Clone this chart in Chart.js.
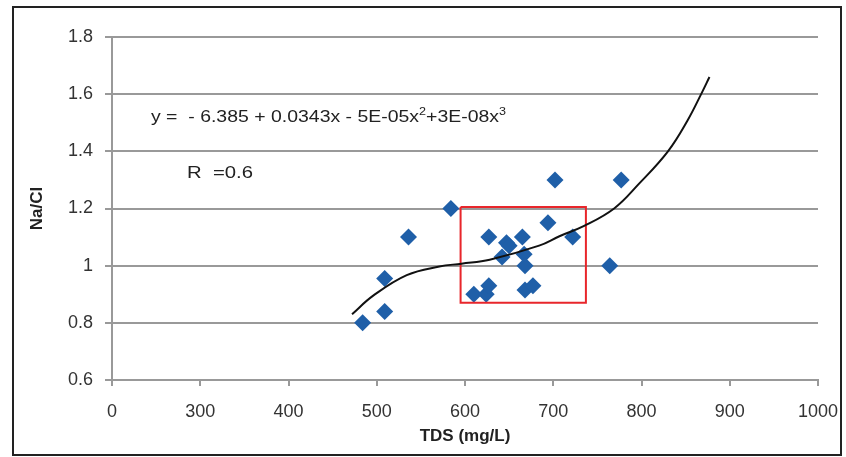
<!DOCTYPE html>
<html>
<head>
<meta charset="utf-8">
<script src="https://cdn.jsdelivr.net/npm/chart.js@4.4.0/dist/chart.umd.min.js"></script>
<style>
  html, body { margin: 0; padding: 0; background: #fff; }
  #wrap { width: 846px; height: 457px; position: relative; }
</style>
</head>
<body>
<div id="wrap"><canvas id="chart" width="846" height="457"></canvas></div>
<script>
// samples
const tds  = [484, 509, 509, 536, 584, 610, 624, 627, 627, 642, 647, 650, 665, 667, 668, 668, 677, 694, 702, 722, 764, 777];
const naCl = [0.80, 0.84, 0.955, 1.10, 1.20, 0.90, 0.90, 0.93, 1.10, 1.03, 1.08, 1.07, 1.10, 1.04, 1.00, 0.915, 0.93, 1.15, 1.30, 1.10, 1.00, 1.30];

// trend curve
const fitTds  = [472, 496, 534, 571, 596, 628, 684, 707, 735, 769, 797, 830, 852, 869, 877];
const fitNaCl = [0.830, 0.895, 0.967, 0.997, 1.007, 1.021, 1.070, 1.103, 1.139, 1.200, 1.286, 1.400, 1.507, 1.609, 1.660];

// red box
const boxTds  = [595, 737, 737, 595, 595];
const boxNaCl = [1.205, 1.205, 0.870, 0.870, 1.205];

const xTicks = [200, 300, 400, 500, 600, 700, 800, 900, 1000];
const xTickLabels = ['0', '300', '400', '500', '600', '700', '800', '900', '1000'];
const yTicks = [0.6, 0.8, 1.0, 1.2, 1.4, 1.6, 1.8];
const yTickLabels = ['0.6', '0.8', '1', '1.2', '1.4', '1.6', '1.8'];

const eqParts = [
  { t: 'y =  - 6.385 + 0.0343x - 5E-05x', sup: false },
  { t: '2', sup: true },
  { t: '+3E-08x', sup: false },
  { t: '3', sup: true }
];
const rText = 'R  =0.6';

const toXY = (xs, ys) => xs.map((x, i) => ({ x: x, y: ys[i] }));

const gray = '#999999';
const textColor = '#333333';
const font = 'Liberation Sans';

// draw a run of text squeezed/stretched to a given width
function drawRun(ctx, parts, x, y, width) {
  const big = '17px "' + font + '"', small = '11px "' + font + '"';
  let total = 0;
  parts.forEach(p => { ctx.font = p.sup ? small : big; total += ctx.measureText(p.t).width; });
  ctx.save();
  ctx.translate(x, y);
  ctx.scale(width / total, 1);
  let cx = 0;
  parts.forEach(p => {
    ctx.font = p.sup ? small : big;
    ctx.fillText(p.t, cx, p.sup ? -7 : 0);
    cx += ctx.measureText(p.t).width;
  });
  ctx.restore();
}

const decor = {
  id: 'decor',
  beforeDraw(chart) {
    const ctx = chart.ctx;
    ctx.save();
    ctx.fillStyle = '#fff';
    ctx.fillRect(0, 0, chart.width, chart.height);
    ctx.restore();
  },
  afterDraw(chart) {
    const ctx = chart.ctx;
    const a = chart.chartArea;
    ctx.save();
    ctx.fillStyle = '#222';
    ctx.textBaseline = 'alphabetic';
    drawRun(ctx, eqParts, a.left + 39, a.top + 85, 355);
    drawRun(ctx, [{ t: rText, sup: false }], a.left + 75, a.top + 141, 66);

    // outer frame
    ctx.strokeStyle = '#222';
    ctx.lineWidth = 2;
    ctx.strokeRect(13, 7, 828, 448);
    ctx.restore();
  }
};

new Chart(document.getElementById('chart'), {
  type: 'scatter',
  data: {
    datasets: [
      {
        label: 'fit',
        data: toXY(fitTds, fitNaCl),
        showLine: true,
        borderColor: '#111',
        borderWidth: 2,
        pointRadius: 0,
        tension: 0.4,
        order: 0
      },
      {
        label: 'box',
        data: toXY(boxTds, boxNaCl),
        showLine: true,
        borderColor: '#e8262b',
        borderWidth: 2,
        pointRadius: 0,
        tension: 0,
        order: 1
      },
      {
        label: 'Na/Cl',
        data: toXY(tds, naCl),
        pointStyle: 'rectRot',
        pointRadius: 8.5,
        pointBackgroundColor: '#1f5fa8',
        pointBorderColor: '#1f5fa8',
        pointBorderWidth: 0,
        order: 2
      }
    ]
  },
  options: {
    responsive: false,
    animation: false,
    devicePixelRatio: 1,
    layout: { padding: { left: 0, right: 28, top: 37, bottom: 0 } },
    plugins: { legend: { display: false }, tooltip: { enabled: false } },
    scales: {
      x: {
        type: 'linear',
        min: 200,
        max: 1000,
        afterBuildTicks: s => { s.ticks = xTicks.map(v => ({ value: v })); },
        afterFit: s => { s.height = 77; s.paddingLeft = 0; s.paddingRight = 0; },
        ticks: {
          callback: (v, i) => xTickLabels[i],
          color: textColor,
          font: { family: font, size: 18 },
          padding: 15,
          maxRotation: 0,
          autoSkip: false
        },
        grid: { drawOnChartArea: false, drawTicks: true, tickLength: 6, color: gray, lineWidth: 2 },
        border: { display: true, color: gray, width: 2 },
        title: {
          display: true,
          text: 'TDS (mg/L)',
          color: '#222',
          font: { family: font, size: 17, weight: 'bold' },
          padding: { top: 0, bottom: 10 }
        }
      },
      y: {
        type: 'linear',
        min: 0.6,
        max: 1.8,
        afterBuildTicks: s => { s.ticks = yTicks.map(v => ({ value: v })); },
        afterFit: s => { s.width = 112; s.paddingTop = 0; s.paddingBottom = 0; },
        ticks: {
          callback: (v, i) => yTickLabels[i],
          color: textColor,
          font: { family: font, size: 18 },
          padding: 12
        },
        grid: { color: gray, lineWidth: 2, tickLength: 7 },
        border: { display: true, color: gray, width: 2 },
        title: {
          display: true,
          text: 'Na/Cl',
          color: '#222',
          font: { family: font, size: 17, weight: 'bold' },
          padding: { top: 27, bottom: 0 }
        }
      }
    }
  },
  plugins: [decor]
});
</script>
</body>
</html>
